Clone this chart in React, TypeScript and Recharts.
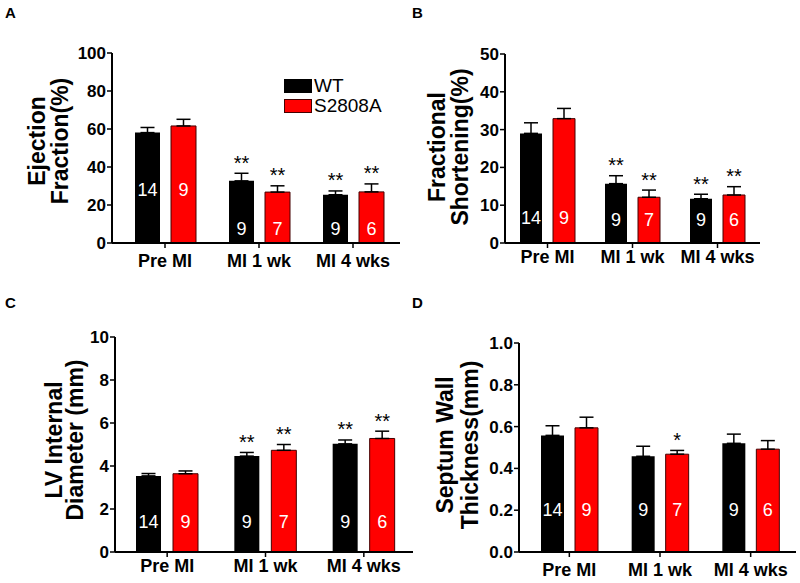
import { Bar, BarChart, ErrorBar, Label, LabelList, XAxis, YAxis } from "recharts";

const FONT = '"Liberation Sans", Arial, Helvetica, sans-serif';

const groups = ["Pre MI", "MI 1 wk", "MI 4 wks"];
const seriesNames = ["WT", "S2808A"];
const seriesColors = ["#000000", "#ff0000"];
const nWT = [14, 9, 9];
const nKO = [9, 7, 6];

// A - ejection fraction
const efWT = [58.1, 32.7, 25.4];
const efKO = [61.6, 26.8, 26.9];
const efErrWT = [2.7, 4.0, 2.0];
const efErrKO = [3.5, 3.3, 4.2];
const efStarsWT = ["", "**", "**"];
const efStarsKO = ["", "**", "**"];
const efTicks = [0, 20, 40, 60, 80, 100];

// B - fractional shortening
const fsWT = [29.0, 15.7, 11.7];
const fsKO = [32.9, 12.1, 12.7];
const fsErrWT = [2.8, 2.1, 1.2];
const fsErrKO = [2.7, 1.9, 2.2];
const fsStarsWT = ["", "**", "**"];
const fsStarsKO = ["", "**", "**"];
const fsTicks = [0, 10, 20, 30, 40, 50];

// C - LV internal diameter
const lvWT = [3.54, 4.46, 5.03];
const lvKO = [3.64, 4.73, 5.28];
const lvErrWT = [0.11, 0.17, 0.18];
const lvErrKO = [0.13, 0.27, 0.34];
const lvStarsWT = ["", "**", "**"];
const lvStarsKO = ["", "**", "**"];
const lvTicks = [0, 2, 4, 6, 8, 10];

// D - septum wall thickness
const swWT = [0.558, 0.458, 0.52];
const swKO = [0.594, 0.468, 0.492];
const swErrWT = [0.046, 0.048, 0.044];
const swErrKO = [0.051, 0.018, 0.041];
const swStarsWT = ["", "", ""];
const swStarsKO = ["", "*", ""];
const swTicks = [0, 0.2, 0.4, 0.6, 0.8, 1.0];

const box = (p: any) => (p.viewBox && p.viewBox.width != null ? p.viewBox : p);

const nLabel = (lift: number[]) => (p: any) => {
  const { x, y, width, height } = box(p);
  return (
    <text
      x={x + width / 2}
      y={y + height - lift[p.index]}
      fill="#fff"
      fontSize={18}
      fontFamily={FONT}
      textAnchor="middle"
      dominantBaseline="central"
    >
      {p.value}
    </text>
  );
};

const starLabel = (vals: number[], errs: number[], stars: string[]) => (p: any) => {
  const s = stars[p.index];
  if (!s) return null;
  const { x, y, width, height } = box(p);
  const capY = y - (errs[p.index] * height) / vals[p.index];
  return (
    <text x={x + width / 2} y={capY - 3.5} fontSize={20} fontFamily={FONT} textAnchor="middle" fill="#000">
      {s}
    </text>
  );
};

function LegendBox() {
  return (
    <div style={{ position: "absolute", left: 284, top: 79, fontFamily: FONT, fontSize: 19 }}>
      {seriesNames.map((n, i) => (
        <div key={n} style={{ display: "flex", alignItems: "center", height: 20, marginTop: i ? 0 : -3 }}>
          <div style={{ width: 28, height: 14, background: seriesColors[i], border: i ? "1px solid #400" : "none", boxSizing: "border-box" }} />
          <span style={{ marginLeft: 2, lineHeight: "20px" }}>{n}</span>
        </div>
      ))}
    </div>
  );
}

type Cfg = {
  left: number; top: number; w: number; h: number;
  mTop: number; mRight: number; yW: number; xH: number;
  padL: number; tickM: number; bar: number; gap: number;
  lbl: { x1: number; x2: number; cy: number };
  lift: number[];
};

function Panel(props: {
  cfg: Cfg; wt: number[]; ko: number[]; errWT: number[]; errKO: number[];
  starsWT: string[]; starsKO: string[]; ticks: number[]; title: string[];
  fmt?: (v: number) => string; legend?: boolean;
}) {
  const { cfg, wt, ko, errWT, errKO, starsWT, starsKO, ticks, title, fmt, legend } = props;
  const data = groups.map((g, i) => ({
    group: g,
    wt: wt[i],
    ko: ko[i],
    wtErr: [0, errWT[i]],
    koErr: [0, errKO[i]],
    wtN: nWT[i],
    koN: nKO[i],
  }));
  const xTickFont = { fill: "#000", fontSize: 18, fontWeight: "bold", fontFamily: FONT };
  const yTickFont = { fill: "#000", fontSize: 17, fontWeight: "bold", fontFamily: FONT };
  return (
    <div style={{ position: "absolute", left: cfg.left, top: cfg.top, width: cfg.w, height: cfg.h }}>
      <BarChart
        width={cfg.w}
        height={cfg.h}
        data={data}
        margin={{ top: cfg.mTop, right: cfg.mRight, left: 0, bottom: 0 }}
        barGap={cfg.gap}
        barSize={cfg.bar}
        style={{ fontFamily: FONT }}
      >
        <XAxis
          dataKey="group"
          height={cfg.xH}
          interval={0}
          padding={{ left: cfg.padL, right: 0 }}
          axisLine={{ stroke: "#000", strokeWidth: 2 }}
          tickLine={{ stroke: "#000", strokeWidth: 1.5 }}
          tickSize={5}
          tickMargin={cfg.tickM}
          fontSize={18}
          fontWeight="bold"
          tick={xTickFont}
        />
        <YAxis
          width={cfg.yW}
          domain={[0, ticks[ticks.length - 1]]}
          ticks={ticks}
          interval={0}
          tickFormatter={fmt}
          axisLine={{ stroke: "#000", strokeWidth: 2 }}
          tickLine={{ stroke: "#000", strokeWidth: 1.5 }}
          tickSize={5}
          tickMargin={1}
          fontSize={17}
          fontWeight="bold"
          tick={yTickFont}
        >
          <Label
            content={() => (
              <g fontFamily={FONT} fontSize={23} fontWeight="bold" fill="#000">
                <text x={cfg.lbl.x1} y={cfg.lbl.cy} textAnchor="middle" transform={`rotate(-90 ${cfg.lbl.x1} ${cfg.lbl.cy})`}>
                  {title[0]}
                </text>
                <text x={cfg.lbl.x2} y={cfg.lbl.cy} textAnchor="middle" transform={`rotate(-90 ${cfg.lbl.x2} ${cfg.lbl.cy})`}>
                  {title[1]}
                </text>
              </g>
            )}
          />
        </YAxis>
        <Bar dataKey="wt" fill={seriesColors[0]} isAnimationActive={false}>
          <ErrorBar dataKey="wtErr" direction="y" width={7} stroke="#000" strokeWidth={1.5} isAnimationActive={false} />
          <LabelList dataKey="wtN" content={nLabel(cfg.lift)} />
          <LabelList dataKey="wt" content={starLabel(wt, errWT, starsWT)} />
        </Bar>
        <Bar dataKey="ko" fill={seriesColors[1]} stroke="#400" strokeWidth={1} isAnimationActive={false}>
          <ErrorBar dataKey="koErr" direction="y" width={7} stroke="#000" strokeWidth={1.5} isAnimationActive={false} />
          <LabelList dataKey="koN" content={nLabel(cfg.lift)} />
          <LabelList dataKey="ko" content={starLabel(ko, errKO, starsKO)} />
        </Bar>
      </BarChart>
      {legend && <LegendBox />}
    </div>
  );
}

const cfgA: Cfg = { left: 0, top: 0, w: 400, h: 290, mTop: 53, mRight: 0, yW: 112, xH: 47, padL: 6, tickM: 6, bar: 25, gap: 11, lbl: { x1: 45, x2: 68, cy: 141 }, lift: [53, 14, 14] };
const cfgB: Cfg = { left: 400, top: 0, w: 400, h: 290, mTop: 54, mRight: 40, yW: 105, xH: 47, padL: 0, tickM: 2, bar: 22, gap: 11, lbl: { x1: 45, x2: 68, cy: 147 }, lift: [25, 23, 23] };
const cfgC: Cfg = { left: 0, top: 290, w: 420, h: 293, mTop: 47, mRight: 7, yW: 115, xH: 31, padL: 3, tickM: 2, bar: 25, gap: 12, lbl: { x1: 62, x2: 83, cy: 150 }, lift: [30, 30, 30] };
const cfgD: Cfg = { left: 400, top: 290, w: 400, h: 293, mTop: 53, mRight: 4, yW: 119, xH: 31, padL: 5, tickM: 6, bar: 23, gap: 11, lbl: { x1: 53, x2: 78, cy: 155 }, lift: [42, 42, 42] };

export default function App() {
  return (
    <div style={{ position: "absolute", left: 0, top: 0, width: 800, height: 583, background: "#fff", overflow: "hidden" }}>
      <Panel cfg={cfgA} wt={efWT} ko={efKO} errWT={efErrWT} errKO={efErrKO} starsWT={efStarsWT} starsKO={efStarsKO} ticks={efTicks} title={["Ejection", "Fraction(%)"]} legend />
      <Panel cfg={cfgB} wt={fsWT} ko={fsKO} errWT={fsErrWT} errKO={fsErrKO} starsWT={fsStarsWT} starsKO={fsStarsKO} ticks={fsTicks} title={["Fractional", "Shortening(%)"]} />
      <Panel cfg={cfgC} wt={lvWT} ko={lvKO} errWT={lvErrWT} errKO={lvErrKO} starsWT={lvStarsWT} starsKO={lvStarsKO} ticks={lvTicks} title={["LV Internal", "Diameter (mm)"]} />
      <Panel cfg={cfgD} wt={swWT} ko={swKO} errWT={swErrWT} errKO={swErrKO} starsWT={swStarsWT} starsKO={swStarsKO} ticks={swTicks} title={["Septum Wall", "Thickness(mm)"]} fmt={(v: number) => v.toFixed(1)} />
      <svg width={800} height={583} style={{ position: "absolute", left: 0, top: 0, pointerEvents: "none" }}>
        <g fontFamily={FONT} fontSize={15} fontWeight="bold" fill="#000">
          <text x={5} y={18}>A</text>
          <text x={412} y={18}>B</text>
          <text x={5} y={308}>C</text>
          <text x={412} y={308}>D</text>
        </g>
      </svg>
    </div>
  );
}
